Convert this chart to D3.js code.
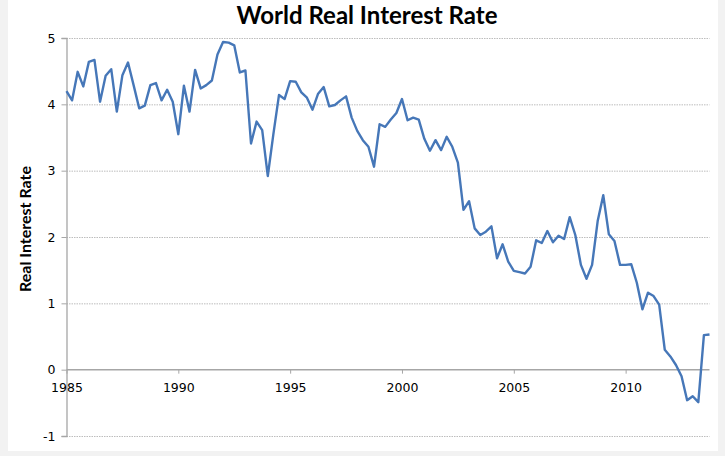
<!DOCTYPE html>
<html>
<head>
<meta charset="utf-8">
<script src="https://cdn.jsdelivr.net/npm/d3@7"></script>
<style>
  body { margin: 0; background: #f2f2f2; }
  svg { display: block; }
</style>
</head>
<body>
<svg id="chart" width="725" height="456"></svg>
<script>
// quarterly values, first one is 1985 Q1
const startYear = 1985;
const rates = [
  4.20, 4.06, 4.49, 4.27, 4.64, 4.67, 4.04, 4.43, 4.53, 3.89,
  4.44, 4.63, 4.29, 3.94, 3.98, 4.29, 4.32, 4.06, 4.22, 4.04,
  3.55, 4.28, 3.89, 4.52, 4.24, 4.29, 4.36, 4.75, 4.94, 4.93,
  4.89, 4.48, 4.51, 3.41, 3.74, 3.61, 2.92, 3.55, 4.14, 4.08,
  4.35, 4.34, 4.18, 4.10, 3.92, 4.16, 4.26, 3.97, 3.99, 4.06,
  4.12, 3.80, 3.60, 3.46, 3.36, 3.06, 3.70, 3.66, 3.77, 3.87,
  4.08, 3.76, 3.80, 3.77, 3.48, 3.30, 3.46, 3.31, 3.51, 3.36,
  3.12, 2.41, 2.54, 2.13, 2.03, 2.08, 2.16, 1.68, 1.89, 1.63,
  1.49, 1.47, 1.45, 1.55, 1.95, 1.91, 2.09, 1.92, 2.02, 1.97,
  2.30, 2.03, 1.58, 1.37, 1.58, 2.24, 2.63, 2.04, 1.94, 1.58,
  1.58, 1.59, 1.31, 0.91, 1.16, 1.11, 0.98, 0.30, 0.20, 0.07,
  -0.10, -0.46, -0.40, -0.49, 0.52, 0.53
];
const yearTicks = [1985, 1990, 1995, 2000, 2005, 2010];
const yTicks = [-1, 0, 1, 2, 3, 4, 5];

const svg = d3.select("#chart");

// white chart area on grey page
svg.append("rect")
  .attr("x", 8).attr("y", 0)
  .attr("width", 710).attr("height", 451)
  .attr("fill", "#ffffff");

const x = d3.scaleLinear()
  .domain([startYear, startYear + (rates.length - 1) / 4])
  .range([66.5, 709.5]);
const y = d3.scaleLinear()
  .domain([-1, 5])
  .range([436, 38]);

// dotted gridlines
svg.append("g")
  .selectAll("line")
  .data(yTicks.filter(d => d !== 0))
  .enter().append("line")
  .attr("x1", x.range()[0]).attr("x2", x.range()[1])
  .attr("y1", d => y(d) + 0.5).attr("y2", d => y(d) + 0.5)
  .attr("stroke", "#bdbdbd")
  .attr("stroke-width", 1)
  .attr("stroke-dasharray", "1.5,1");

// y axis (plain hyphen for the minus, like the original)
const yAxis = d3.axisLeft(y).tickValues(yTicks).tickSize(5).tickPadding(6).tickFormat(d => String(d));
const gy = svg.append("g")
  .attr("transform", "translate(" + x.range()[0] + ",0)")
  .call(yAxis);
gy.select(".domain").attr("stroke", "#a6a6a6").attr("stroke-width", 1.3);
gy.selectAll(".tick line").attr("stroke", "#a6a6a6");
gy.selectAll("text")
  .style("font-family", "DejaVu Sans")
  .style("font-size", "12.5px")
  .attr("fill", "#000");

// x axis sits on zero
const xAxis = d3.axisBottom(x).tickValues(yearTicks).tickSize(4).tickPadding(9).tickFormat(d => String(d));
const gx = svg.append("g")
  .attr("transform", "translate(0," + y(0) + ")")
  .call(xAxis);
gx.select(".domain").attr("stroke", "#a6a6a6").attr("stroke-width", 1.5)
  .attr("d", "M" + x.range()[0] + ",0H" + x.range()[1]);
gx.selectAll(".tick line").attr("stroke", "#a6a6a6");
gx.selectAll("text")
  .style("font-family", "DejaVu Sans")
  .style("font-size", "12.5px")
  .attr("fill", "#000");

// the series
const line = d3.line()
  .x((d, i) => x(startYear + i / 4))
  .y(d => y(d));
svg.append("path")
  .datum(rates)
  .attr("d", line)
  .attr("fill", "none")
  .attr("stroke", "#4677b8")
  .attr("stroke-width", 2.4)
  .attr("stroke-linejoin", "round");

// title and axis label
svg.append("text")
  .text("World Real Interest Rate")
  .attr("x", 367)
  .attr("y", 24)
  .attr("text-anchor", "middle")
  .style("font-family", "Lato")
  .style("font-weight", "bold")
  .style("font-size", "24px");

svg.append("text")
  .text("Real Interest Rate")
  .attr("transform", "translate(31,229) rotate(-90)")
  .attr("text-anchor", "middle")
  .style("font-family", "Lato")
  .style("font-weight", "bold")
  .style("font-size", "16px");
</script>
</body>
</html>
